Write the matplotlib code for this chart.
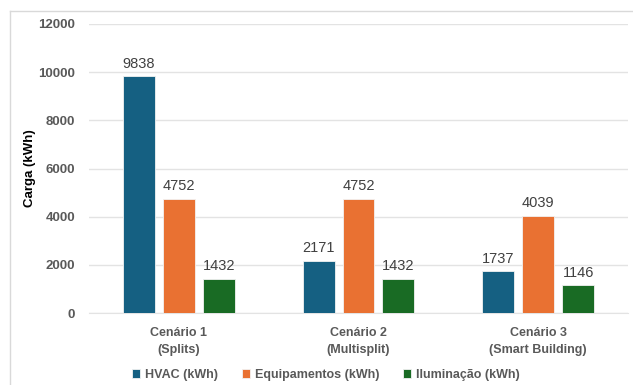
import matplotlib.pyplot as plt
from matplotlib.lines import Line2D
import numpy as np

cenarios = ["Cenário 1\n(Splits)", "Cenário 2\n(Multisplit)", "Cenário 3\n(Smart Building)"]
series = ["HVAC (kWh)", "Equipamentos (kWh)", "Iluminação (kWh)"]
hvac = [9838, 2171, 1737]
equipamentos = [4752, 4752, 4039]
iluminacao = [1432, 1432, 1146]
cores = ["#156082", "#E97132", "#196B24"]

plt.rcParams['font.family'] = ['Liberation Sans', 'DejaVu Sans']

fig = plt.figure(figsize=(6.33, 3.85), dpi=100)
ax = fig.add_axes([89 / 633, 1 - 313 / 385, 539 / 633, 289 / 385])

x = np.arange(len(cenarios))
w = 32 / 180
off = 40 / 180
for i, (vals, nome) in enumerate(zip([hvac, equipamentos, iluminacao], series)):
    bars = ax.bar(x + (i - 1) * off, vals, w, color=cores[i], label=nome,
                  edgecolor="#f2f2f2", linewidth=0.6, zorder=3)
    ax.bar_label(bars, labels=[str(v) for v in vals], padding=4,
                 fontsize=10.5, color="#404040")

ax.set_xlim(-0.5, 2.5)
ax.set_ylim(0, 12000)
ax.set_yticks(range(0, 12001, 2000))
ax.grid(axis="y", color="#e3e3e3", linewidth=1, zorder=0)
for s in ["top", "right", "left"]:
    ax.spines[s].set_visible(False)
ax.spines["bottom"].set_color("#e3e3e3")
ax.tick_params(axis="both", length=0)
ax.tick_params(axis="y", pad=10)
ax.tick_params(axis="x", pad=10)
ax.set_xticks(x)
ax.set_xticklabels(cenarios, fontsize=9, fontweight="bold", color="#595959",
                   linespacing=1.55)
for lbl in ax.get_yticklabels():
    lbl.set_fontsize(9.5)
    lbl.set_fontweight("bold")
    lbl.set_color("#595959")

fig.text(30 / 633, 1 - 168 / 385, "Carga (kWh)", rotation=90, ha="center",
         va="center", fontsize=9.5, fontweight="bold", color="black")

fig.legend(loc="center", bbox_to_anchor=(326 / 633, 1 - 375 / 385), ncol=3,
           frameon=False, handlelength=0.65, handleheight=0.65,
           handletextpad=0.4, columnspacing=1.9,
           prop={"weight": "bold", "size": 9})
for t in fig.legends[0].get_texts():
    t.set_color("#595959")

# moldura externa (apenas topo e esquerda visíveis)
fig.add_artist(Line2D([10 / 633, 10 / 633], [0, 1 - 11 / 385], color="#d9d9d9", lw=1))
fig.add_artist(Line2D([10 / 633, 1], [1 - 11 / 385, 1 - 11 / 385], color="#d9d9d9", lw=1))

fig.savefig("out.png", dpi=100)
